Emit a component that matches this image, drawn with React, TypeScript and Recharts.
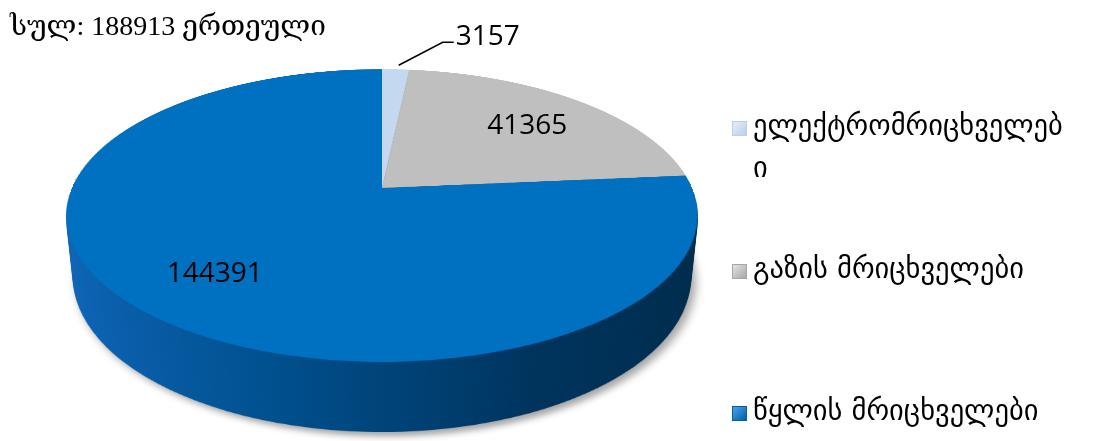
import { PieChart, Pie, Cell, Legend } from "recharts";

const categories = ["ელექტრომრიცხველები", "გაზის მრიცხველები", "წყლის მრიცხველები"];
const values = [3157, 41365, 144391];
const topColors = ["#C4D8F0", "#BFBFBF", "#0070C0"];
const sideColors = ["#8DA8C9", "#4D4D4D", "side-blue"];
const legendColors = [
  ["#E6EEF8", "#B9CFEA"],
  ["#E4E4E4", "#A6A6A6"],
  ["#4FA3E6", "#005EA8"],
];

const total = values.reduce((a, b) => a + b, 0);
const data = categories.map((name, i) => ({ name, value: values[i] }));

const W = 1094;
const H = 441;
const CX = 382;
const CY = 188;
const R = 310;
const TILT = 62.9;
const PERSP = 1470;
const DEPTH = 70;

const rad = (TILT * Math.PI) / 180;
const cosT = Math.cos(rad);
const sinT = Math.sin(rad);

// same projection the css transform does, used for the 2d labels
function project(lx: number, ly: number, lz = 0) {
  const y1 = ly * cosT - lz * sinT;
  const z1 = ly * sinT + lz * cosT;
  const f = PERSP / (PERSP - z1);
  return { x: CX + lx * f, y: CY + y1 * f };
}

const labelFont = "'Open Sans', 'Liberation Sans', sans-serif";

function renderLabel(props: any) {
  const { midAngle, index } = props;
  const a = (midAngle * Math.PI) / 180;
  if (index === 0) {
    const e = project(R * Math.cos(a), -R * Math.sin(a));
    const sx = e.x + 3;
    const sy = e.y - 4;
    const kx = sx + 44;
    const ky = sy - 23;
    return (
      <g key="lbl-0">
        <path d={`M${sx},${sy}L${kx},${ky}H${kx + 11}`} stroke="#000" strokeWidth={1.5} fill="none" />
        <text x={kx + 13} y={ky + 3} fontSize={28} fontFamily={labelFont} fill="#000">
          {values[0]}
        </text>
      </g>
    );
  }
  const r = R * 0.72;
  const p = project(r * Math.cos(a), -r * Math.sin(a));
  return (
    <text
      key={`lbl-${index}`}
      x={p.x}
      y={p.y}
      textAnchor="middle"
      dominantBaseline="central"
      fontSize={28}
      fontFamily={labelFont}
      fill="#000"
    >
      {values[index]}
    </text>
  );
}

function renderLegend(props: any) {
  const items = [...(props.payload || [])].sort(
    (a: any, b: any) => categories.indexOf(a.value) - categories.indexOf(b.value)
  );
  return (
    <div style={{ width: 350 }}>
      {items.map((item: any) => {
        const i = categories.indexOf(item.value);
        return (
          <div key={`leg-${i}`} style={{ height: 142.5, display: "flex", alignItems: "flex-start" }}>
            <span
              style={{
                display: "inline-block",
                width: 13,
                height: 13,
                marginTop: 13,
                marginRight: 6,
                flex: "none",
                border: `1px solid ${legendColors[i][1]}`,
                background: `linear-gradient(135deg, ${legendColors[i][0]} 0%, ${legendColors[i][1]} 100%)`,
              }}
            />
            <span
              style={{
                width: 314,
                wordBreak: "break-all",
                fontSize: 28.5,
                lineHeight: "42px",
                marginTop: -3,
                fontFamily: "'DejaVu Sans', sans-serif",
                color: "#000",
              }}
            >
              {item.value}
            </span>
          </div>
        );
      })}
    </div>
  );
}

function Layer({ z, top }: { z: number; top: boolean }) {
  const gid = `side-blue-${z}`;
  return (
    <div
      style={{
        position: "absolute",
        left: CX - R,
        top: CY - R,
        width: 2 * R,
        height: 2 * R,
        transform: `perspective(${PERSP}px) rotateX(${TILT}deg) translateZ(${-z}px)`,
        filter: z === DEPTH ? "drop-shadow(4px 6px 4px rgba(0,0,0,0.35))" : undefined,
      }}
    >
      <PieChart width={2 * R} height={2 * R} margin={{ top: 0, right: 0, bottom: 0, left: 0 }}>
        <defs>
          <linearGradient id={gid} x1={0} y1={0} x2={2 * R} y2={0} gradientUnits="userSpaceOnUse">
            <stop offset="0%" stopColor="#0E66BA" />
            <stop offset="35%" stopColor="#00508F" />
            <stop offset="70%" stopColor="#00345E" />
            <stop offset="100%" stopColor="#002A4A" />
          </linearGradient>
        </defs>
        <Pie
          data={data}
          dataKey="value"
          nameKey="name"
          cx={R}
          cy={R}
          outerRadius={R}
          startAngle={90}
          endAngle={-270}
          stroke="none"
          isAnimationActive={false}
        >
          {data.map((d, i) => (
            <Cell
              key={`c-${i}`}
              fill={top ? topColors[i] : sideColors[i] === "side-blue" ? `url(#${gid})` : sideColors[i]}
            />
          ))}
        </Pie>
      </PieChart>
    </div>
  );
}

const depths: number[] = [];
for (let z = DEPTH; z >= 1; z--) depths.push(z);

export default function App() {
  return (
    <div style={{ position: "absolute", left: 0, top: 0, width: W, height: H, background: "#fff", overflow: "hidden" }}>
      {depths.map((z) => (
        <Layer key={`side-${z}`} z={z} top={false} />
      ))}
      <Layer z={0} top />
      <div style={{ position: "absolute", left: 0, top: 0 }}>
        <PieChart width={W} height={H} margin={{ top: 0, right: 0, bottom: 0, left: 0 }}>
          <Pie
            data={data}
            dataKey="value"
            nameKey="name"
            cx={CX}
            cy={CY}
            outerRadius={R}
            startAngle={90}
            endAngle={-270}
            fill="none"
            stroke="none"
            label={renderLabel}
            labelLine={false}
            isAnimationActive={false}
          >
            {data.map((d, i) => (
              <Cell key={`o-${i}`} fill={topColors[i]} fillOpacity={0} />
            ))}
          </Pie>
          <Legend
            layout="vertical"
            align="right"
            verticalAlign="top"
            content={renderLegend}
            wrapperStyle={{ left: 732, top: 108, width: 350 }}
          />
        </PieChart>
      </div>
      <svg width={400} height={50} style={{ position: "absolute", left: 0, top: 0 }}>
        <text x={10} y={35} fontSize={28} fontFamily="'Liberation Serif', 'DejaVu Serif', serif" fill="#000">
          {`სულ: ${total} ერთეული`}
        </text>
      </svg>
    </div>
  );
}
